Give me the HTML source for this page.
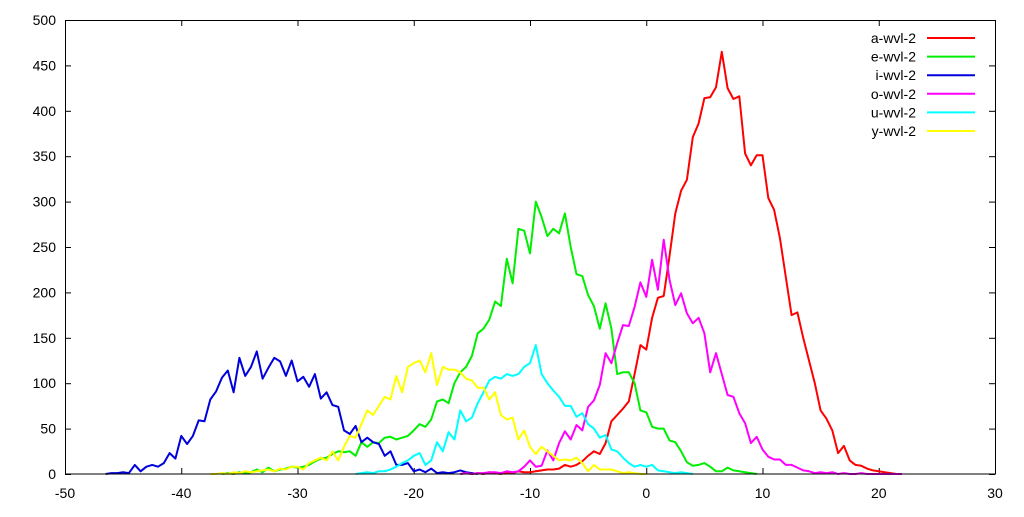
<!DOCTYPE html>
<html><head><meta charset="utf-8"><style>
html,body{margin:0;padding:0;background:#fff;}
svg text{font-family:"Liberation Sans",sans-serif;font-size:14px;fill:#000;}
</style></head><body>
<svg id="chart" width="1024" height="512" xmlns="http://www.w3.org/2000/svg">
<rect x="0" y="0" width="1024" height="512" fill="#fff"/>
<g id="grid"></g>
<g id="series"></g>
<g id="legend"></g>
<rect x="65.5" y="20.5" width="930" height="453.5" fill="none" stroke="#000" stroke-width="1"/>
</svg>
<script>
const xTicks = [-50,-40,-30,-20,-10,0,10,20,30];
const yTicks = [0,50,100,150,200,250,300,350,400,450,500];
const seriesNames = ["a-wvl-2","e-wvl-2","i-wvl-2","o-wvl-2","u-wvl-2","y-wvl-2"];
const seriesColors = ["#ff0000","#00ee00","#0000dd","#ff00ff","#00ffff","#ffff00"];
const seriesStart = [-16,-36.5,-46.5,-16,-25,-37.5];
const xStep = 0.5;
const aValues = [0,1,0,1,0,2,1,0,2,1,3,2,2,3,4,5,5,6,10,8,10,14,20,25,22,34,58,65,72,80,110,142,137,172,194,196,240,287,312,324,371,386,414,415,426,465,425,413,416,353,340,351,351,304,291,260,217,175,178,150,125,100,70,61,48,23,31,15,10,9,6,4,3,2,1,0,0];
const eValues = [0,1,0,2,1,2,5,2,7,3,5,6,8,7,8,10,14,17,18,22,25,24,25,20,35,30,35,34,40,41,38,40,42,48,55,52,60,80,82,78,100,112,118,130,155,160,170,190,185,237,210,270,268,243,300,283,262,270,265,287,250,220,218,197,185,160,188,160,110,112,112,100,70,68,52,50,50,37,35,25,13,9,10,12,8,3,3,7,4,3,2,1,0];
const iValues = [0,1,1,2,1,10,3,8,10,8,12,23,17,42,33,42,59,58,82,91,106,114,90,128,108,118,135,105,117,128,124,108,125,102,107,96,110,83,90,76,74,48,44,53,35,40,35,33,20,25,10,10,12,3,5,2,6,1,2,1,2,4,2,1,0];
const oValues = [0,1,0,1,1,2,2,1,3,2,3,8,15,8,9,26,15,34,47,38,54,48,74,81,98,133,122,144,164,163,184,211,195,236,203,258,214,186,199,177,166,172,155,112,133,110,87,85,67,56,34,41,27,19,16,16,10,10,7,4,3,1,2,1,2,0,1,0,0,1,0,0,0,0,0,0,0];
const uValues = [0,1,2,1,3,3,5,8,12,15,20,23,10,15,35,25,46,38,70,58,62,78,90,103,107,105,110,108,110,118,122,142,110,100,92,85,75,75,63,67,55,50,40,43,27,25,18,12,8,10,8,10,4,3,2,1,2,1,0];
const yValues = [0,0,1,0,2,1,3,2,3,4,5,3,6,5,8,8,5,12,15,18,15,25,15,30,42,40,55,70,65,75,85,82,108,90,118,122,125,112,133,98,118,115,115,112,105,103,95,95,82,90,65,60,62,38,48,30,22,30,25,20,15,16,15,18,12,3,10,5,5,5,3,1,2,1,0,0];
const allValues = [aValues,eValues,iValues,oValues,uValues,yValues];

const X0=65, X1=995, Y0=474, Y1=20;
function xs(v){return X0+(v-(-50))/(30-(-50))*(X1-X0);}
function ys(v){return Y0-(v-0)/(500-0)*(Y0-Y1);}
const NS="http://www.w3.org/2000/svg";
const grid=document.getElementById('grid');
function mk(tag,attrs,parent){const e=document.createElementNS(NS,tag);for(const k in attrs)e.setAttribute(k,attrs[k]);parent.appendChild(e);return e;}

xTicks.forEach(t=>{
  const x=xs(t)+0.5;
  const tb=mk('line',{x1:x,x2:x,y1:Y0,y2:Y0-6,stroke:'#000'},grid);
  
  
  const tt=mk('line',{x1:x,x2:x,y1:Y1,y2:Y1+6,stroke:'#000'},grid);
  
  
  const lb=mk('text',{x:xs(t),y:498,'text-anchor':'middle'},grid);
  lb.textContent=t;
  
  
});
yTicks.forEach(t=>{
  const y=ys(t)+0.5;
  const tl=mk('line',{x1:X0,x2:X0+6,y1:y,y2:y,stroke:'#000'},grid);
  
  
  const tr=mk('line',{x1:X1,x2:X1-6,y1:y,y2:y,stroke:'#000'},grid);
  
  
  const lb=mk('text',{x:56,y:ys(t)+5,'text-anchor':'end'},grid);
  lb.textContent=t;
  
  
});

const sg=document.getElementById('series');
const lg=document.getElementById('legend');
allValues.forEach((vals,s)=>{
  const pts=vals.map((v,i)=>xs(seriesStart[s]+i*xStep).toFixed(1)+','+ys(v).toFixed(1)).join(' ');
  const pl=mk('polyline',{points:pts,fill:'none',stroke:seriesColors[s],'stroke-width':2,'stroke-linejoin':'round'},sg);
  
  
  const ly=38+s*18.6;
  const lt=mk('text',{x:916,y:ly+5,'text-anchor':'end'},lg);
  lt.textContent=seriesNames[s];
  
  
  const ll=mk('line',{x1:927,x2:975,y1:ly,y2:ly,stroke:seriesColors[s],'stroke-width':2},lg);
  
  
});
</script>
</body></html>
